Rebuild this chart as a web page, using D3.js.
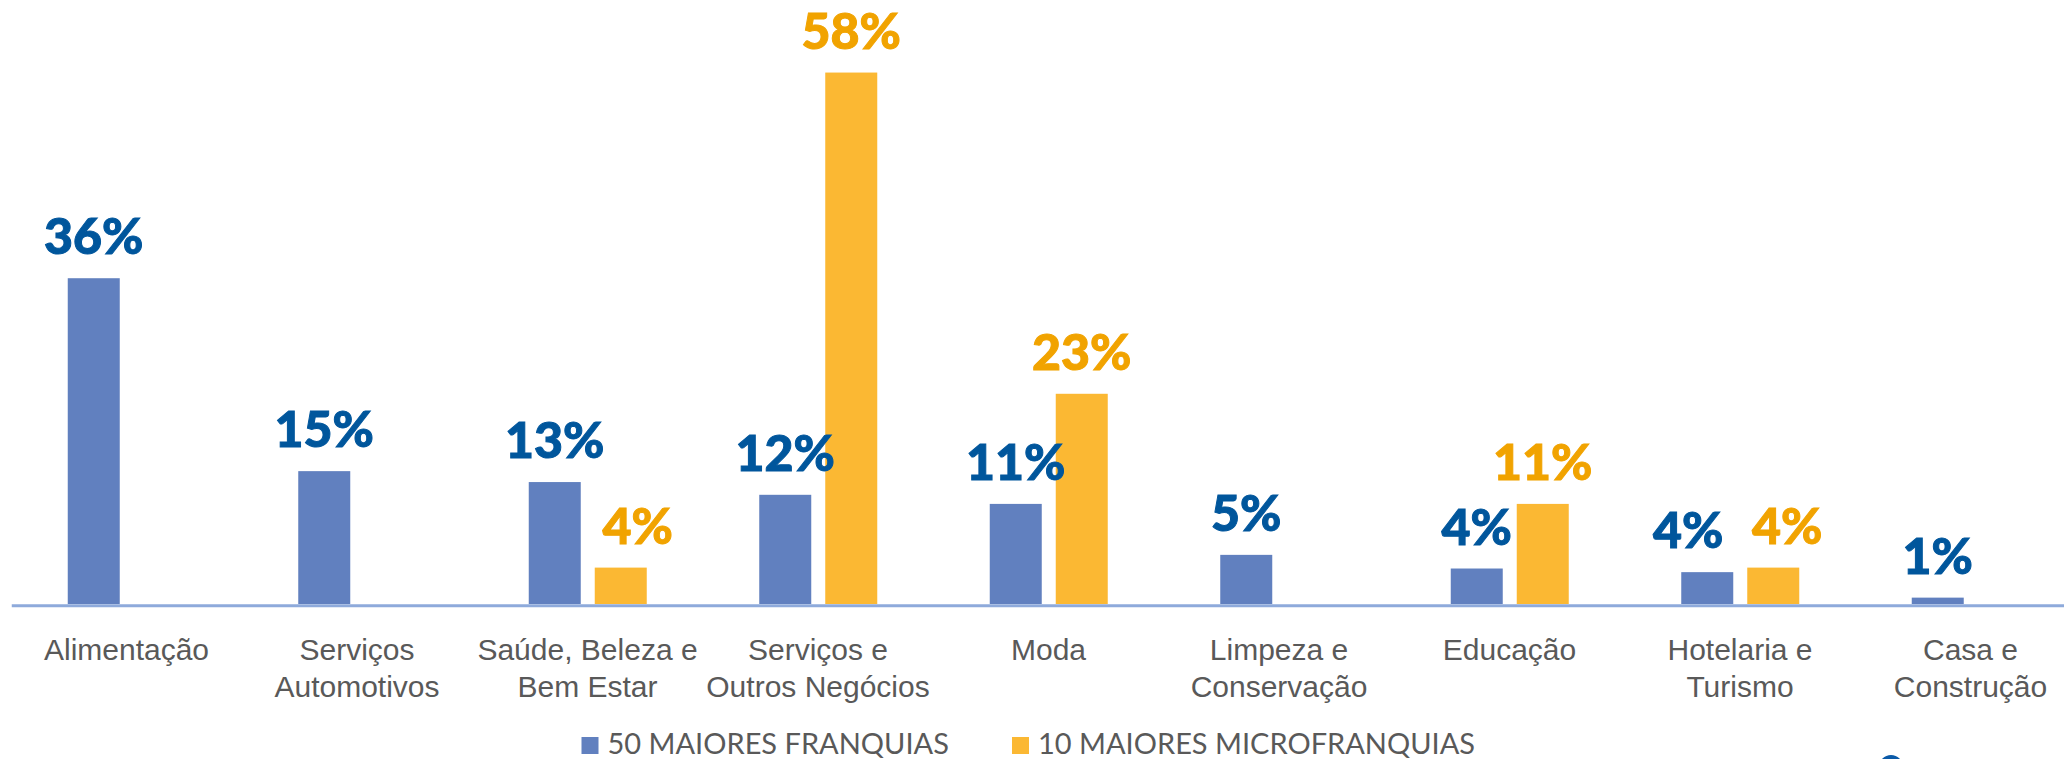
<!DOCTYPE html>
<html>
<head>
<meta charset="utf-8">
<script src="https://cdn.jsdelivr.net/npm/d3@7"></script>
<style>
  body { margin: 0; background: #fff; }
  svg { display: block; font-family: Lato, "Open Sans", sans-serif; }
</style>
</head>
<body>
<svg id="chart"></svg>
<script>
// categories, one "\n" where the label wraps
const categories = [
  "Alimentação",
  "Serviços\nAutomotivos",
  "Saúde, Beleza e\nBem Estar",
  "Serviços e\nOutros Negócios",
  "Moda",
  "Limpeza e\nConservação",
  "Educação",
  "Hotelaria e\nTurismo",
  "Casa e\nConstrução",
];

const seriesNames = ["50 MAIORES FRANQUIAS", "10 MAIORES MICROFRANQUIAS"];

// percent values, null = no bar
const franquias = [35.8, 14.6, 13.4, 12.0, 11.0, 5.4, 3.9, 3.5, 0.7];
const microfranquias = [null, null, 4.0, 58.4, 23.1, null, 11.0, 4.0, null];

const barColors = ["#6180bf", "#fbb833"];
const labelColors = ["#00569c", "#f1a300"];

const width = 2064;
const height = 759;
const baseY = 604;

// labels that were dragged sideways in the original so they don't collide
const labelNudge = { "2-1": 17, "7-0": -19, "7-1": 14 };

const svg = d3.select("#chart").attr("width", width).attr("height", height);

const x0 = d3.scaleBand().domain(categories).range([11.25, 2085.75]);
const x1 = d3
  .scaleBand()
  .domain([0, 1])
  .range([56.5, 174.5])
  .paddingInner(14 / 66);
const yScale = d3.scaleLinear().domain([0, 60]).range([baseY, baseY - 60 * 9.1]);

const rows = [];
categories.forEach((c, i) => {
  [franquias[i], microfranquias[i]].forEach((v, s) => {
    if (v != null) rows.push({ cat: c, i: i, s: s, v: v });
  });
});

svg
  .selectAll(".bar")
  .data(rows)
  .enter()
  .append("rect")
  .attr("class", "bar")
  .attr("x", (d) => x0(d.cat) + x1(d.s))
  .attr("width", x1.bandwidth())
  .attr("y", (d) => yScale(d.v))
  .attr("height", (d) => baseY - yScale(d.v))
  .attr("fill", (d) => barColors[d.s]);

svg
  .selectAll(".valLabel")
  .data(rows)
  .enter()
  .append("text")
  .attr("class", "valLabel")
  .attr(
    "x",
    (d) => x0(d.cat) + x1(d.s) + x1.bandwidth() / 2 + (labelNudge[`${d.i}-${d.s}`] || 0)
  )
  .attr("y", (d) => yScale(d.v) - 24)
  .attr("text-anchor", "middle")
  .attr("font-size", 50)
  .attr("font-weight", 900)
  .attr("fill", (d) => labelColors[d.s])
  .attr("stroke", (d) => labelColors[d.s])
  .attr("stroke-width", 1)
  .text((d) => Math.round(d.v) + "%");

// x axis: domain line is the baseline
const axisG = svg
  .append("g")
  .attr("transform", `translate(0,${baseY + 1.2})`)
  .call(d3.axisBottom(x0).tickSize(0));

axisG.select(".domain").attr("stroke", "#8eaadb").attr("stroke-width", 3);

axisG.selectAll(".tick text").each(function (d) {
  const t = d3.select(this);
  t.text(null)
    .attr("dy", null)
    .attr("y", null)
    .attr("font-family", null)
    .attr("font-size", 30)
    .attr("fill", "#595959");
  d.split("\n").forEach((line, i) => {
    t.append("tspan").attr("x", 0).attr("y", 55 + i * 37).text(line);
  });
});

// legend
const legend = svg
  .selectAll(".legendItem")
  .data(seriesNames)
  .enter()
  .append("g")
  .attr("class", "legendItem")
  .attr("transform", (d, i) => `translate(${[581.5, 1012][i]},737)`);

legend
  .append("rect")
  .attr("width", 17)
  .attr("height", 17)
  .attr("fill", (d, i) => barColors[i]);

legend
  .append("text")
  .attr("x", 26)
  .attr("y", 17)
  .attr("font-size", 29)
  .attr("fill", "#595959")
  .text((d) => d);

// cut-off logo at bottom right
svg.append("circle").attr("cx", 1891).attr("cy", 767).attr("r", 12).attr("fill", "#0a5aa8");
</script>
</body>
</html>
